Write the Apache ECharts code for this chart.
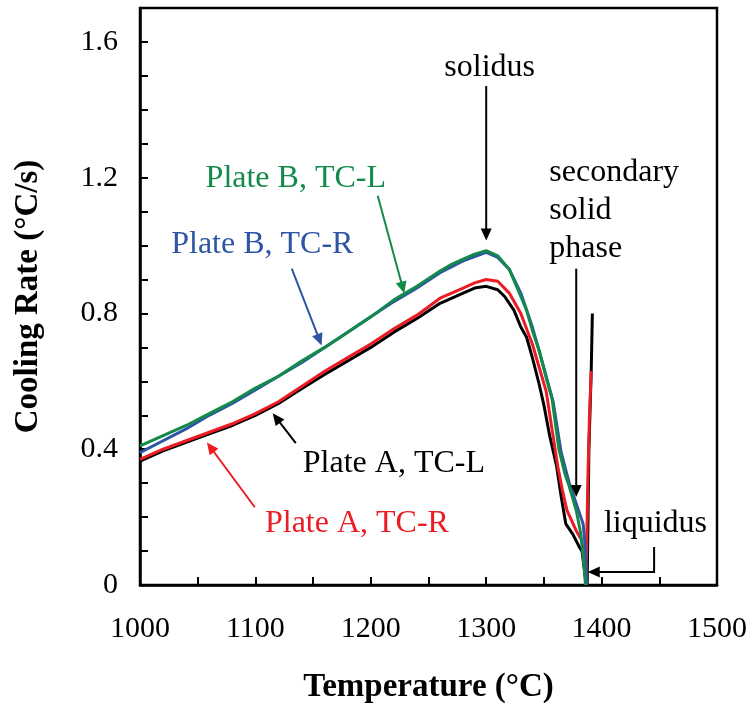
<!DOCTYPE html>
<html><head><meta charset="utf-8">
<script src="https://cdn.jsdelivr.net/npm/echarts@6/dist/echarts.min.js"></script>
<style>html,body{margin:0;padding:0;background:#fff}#c{width:753px;height:709px}</style>
</head><body><div id="c"></div>
<script>
// Plate A, TC-L (black)
const plateA_TCL_T    = [1000,1020,1040,1060,1080,1100,1120,1140,1160,1180,1200,1220,1240,1260,1280,1290,1300,1310,1316,1324,1330,1335,1340,1346,1350,1355,1361,1365,1369,1375,1381,1383,1386,1387.5,1389,1391,1392];
const plateA_TCL_rate = [0.365,0.395,0.42,0.445,0.47,0.50,0.535,0.578,0.62,0.66,0.70,0.745,0.785,0.83,0.86,0.875,0.88,0.87,0.85,0.81,0.76,0.73,0.67,0.59,0.53,0.44,0.35,0.26,0.18,0.15,0.11,0.10,0.02,0,0.40,0.63,0.80];
// Plate A, TC-R (red)
const plateA_TCR_T    = [1000,1020,1040,1060,1080,1100,1120,1140,1160,1180,1200,1220,1240,1260,1280,1290,1300,1310,1320,1330,1340,1346,1352,1357,1362,1366,1370,1378,1383,1385,1386.5,1388,1389.5,1391];
const plateA_TCR_rate = [0.37,0.40,0.425,0.45,0.475,0.505,0.54,0.585,0.63,0.67,0.71,0.755,0.795,0.845,0.875,0.89,0.90,0.895,0.86,0.80,0.71,0.64,0.57,0.46,0.35,0.28,0.22,0.16,0.13,0.06,0,0.30,0.50,0.63];
// Plate B, TC-R (blue)
const plateB_TCR_T    = [1000,1020,1040,1060,1080,1100,1120,1140,1160,1180,1200,1220,1240,1260,1280,1300,1310,1320,1330,1340,1350,1358,1365,1372,1378,1382,1384,1386,1387];
const plateB_TCR_rate = [0.39,0.425,0.46,0.50,0.535,0.575,0.615,0.655,0.70,0.745,0.79,0.835,0.875,0.92,0.955,0.98,0.965,0.93,0.86,0.76,0.64,0.54,0.39,0.30,0.24,0.20,0.18,0.11,0];
// Plate B, TC-L (green)
const plateB_TCL_T    = [1000,1020,1040,1060,1080,1100,1120,1140,1160,1180,1200,1220,1240,1260,1270,1280,1290,1300,1310,1320,1330,1335,1340,1346,1352,1357,1363,1368,1372,1378,1382,1385,1386];
const plateB_TCL_rate = [0.41,0.44,0.47,0.505,0.54,0.58,0.615,0.66,0.70,0.745,0.79,0.84,0.88,0.925,0.945,0.96,0.975,0.985,0.97,0.93,0.85,0.81,0.75,0.69,0.61,0.55,0.40,0.33,0.29,0.22,0.15,0.05,0];

const xTickLabels = [1000,1100,1200,1300,1400,1500];
const yTickLabels = [0,0.4,0.8,1.2,1.6];

const zip = (a,b) => a.map((v,i)=>[v,b[i]]);
const FONT = '"Liberation Serif","Times New Roman",serif';
const chart = echarts.init(document.getElementById('c'), null, {renderer:'canvas'});

function mk(name, T, R, color){
  return {name, type:'line', data:zip(T,R), showSymbol:false, symbol:'none',
    lineStyle:{color, width:3}, itemStyle:{color}, animation:false, z:2};
}

chart.setOption({
  backgroundColor:'#fff',
  animation:false,
  grid:{left:140, right:36, top:8, bottom:124, show:true, borderColor:'#000', borderWidth:2.5, backgroundColor:'transparent'},
  xAxis:{type:'value', min:1000, max:1500, interval:50,
    axisLine:{lineStyle:{color:'#000', width:2.5}},
    axisTick:{inside:true, length:8, lineStyle:{color:'#000', width:2}},
    splitLine:{show:false},
    axisLabel:{color:'#000', fontFamily:FONT, fontSize:30, margin:29,
      formatter:v=> xTickLabels.includes(Math.round(v)) ? String(Math.round(v)) : ''},
    name:'Temperature (°C)', nameLocation:'middle', nameGap:86,
    nameTextStyle:{color:'#000', fontFamily:FONT, fontSize:33, fontWeight:'bold'}},
  yAxis:{type:'value', min:0, max:1.7, interval:0.1,
    axisLine:{lineStyle:{color:'#000', width:2.5}},
    axisTick:{inside:true, length:8, lineStyle:{color:'#000', width:2}},
    splitLine:{show:false},
    axisLabel:{color:'#000', fontFamily:FONT, fontSize:30, margin:22, showMaxLabel:true,
      formatter:v=>{const r=Math.round(v*10)/10; return yTickLabels.some(t=>Math.abs(t-r)<1e-6) ? (r===0?'0':r.toFixed(1)) : '';}},
    name:'Cooling Rate (°C/s)', nameLocation:'middle', nameGap:95,
    nameTextStyle:{color:'#000', fontFamily:FONT, fontSize:33, fontWeight:'bold'}},
  series:[
    mk('Plate A, TC-L', plateA_TCL_T, plateA_TCL_rate, '#000000'),
    mk('Plate A, TC-R', plateA_TCR_T, plateA_TCR_rate, '#ec1c24'),
    mk('Plate B, TC-R', plateB_TCR_T, plateB_TCR_rate, '#2e55a5'),
    mk('Plate B, TC-L', plateB_TCL_T, plateB_TCL_rate, '#138a49')
  ]
});

// annotations in data coordinates
const labels = [
  {text:'solidus', at:[1303,1.524], color:'#000', align:'center'},
  {text:'Plate B, TC-L', at:[1135,1.197], color:'#138a49', align:'center'},
  {text:'Plate B, TC-R', at:[1106,1.003], color:'#2e55a5', align:'center'},
  {text:'Plate A, TC-L', at:[1220,0.359], color:'#000', align:'center'},
  {text:'Plate A, TC-R', at:[1188,0.182], color:'#ec1c24', align:'center'},
  {text:'secondary', at:[1354.7,1.215], color:'#000', align:'left'},
  {text:'solid', at:[1354.7,1.103], color:'#000', align:'left'},
  {text:'phase', at:[1354.7,0.991], color:'#000', align:'left'},
  {text:'liquidus', at:[1402,0.182], color:'#000', align:'left'}
];
const arrows = [
  {pts:[[1300,1.47],[1300,1.015]], color:'#000'},
  {pts:[[1206,1.147],[1229,0.859]], color:'#138a49'},
  {pts:[[1131.5,0.932],[1157.4,0.706]], color:'#2e55a5'},
  {pts:[[1135,0.418],[1115,0.506]], color:'#000'},
  {pts:[[1099.5,0.229],[1058,0.42]], color:'#ec1c24'},
  {pts:[[1378,0.932],[1378,0.259]], color:'#000'},
  {pts:[[1445.5,0.112],[1445.5,0.038],[1388,0.038]], color:'#000'}
];
const px = p => chart.convertToPixel({gridIndex:0}, p);
const g = [];
labels.forEach(l=>{
  const p = px(l.at);
  g.push({type:'text', x:p[0], y:p[1], z:10, style:{text:l.text, fill:l.color, font:'32px '+FONT, textAlign:l.align, textVerticalAlign:'middle'}});
});
arrows.forEach(a=>{
  const P = a.pts.map(px);
  const n = P.length;
  const [x1,y1] = P[n-2], [x2,y2] = P[n-1];
  const dx=x2-x1, dy=y2-y1, L=Math.hypot(dx,dy), ux=dx/L, uy=dy/L;
  const hl=12, hw=5.5;
  const bx=x2-ux*hl, by=y2-uy*hl;
  const lineP = P.slice(0,n-1).concat([[bx+ux*2,by+uy*2]]);
  g.push({type:'polyline', z:10, shape:{points:lineP}, style:{stroke:a.color, lineWidth:2, fill:null}});
  g.push({type:'polygon', z:10, shape:{points:[[x2,y2],[bx-uy*hw,by+ux*hw],[bx+uy*hw,by-ux*hw]]}, style:{fill:a.color}});
});
chart.setOption({graphic:g});
</script></body></html>
